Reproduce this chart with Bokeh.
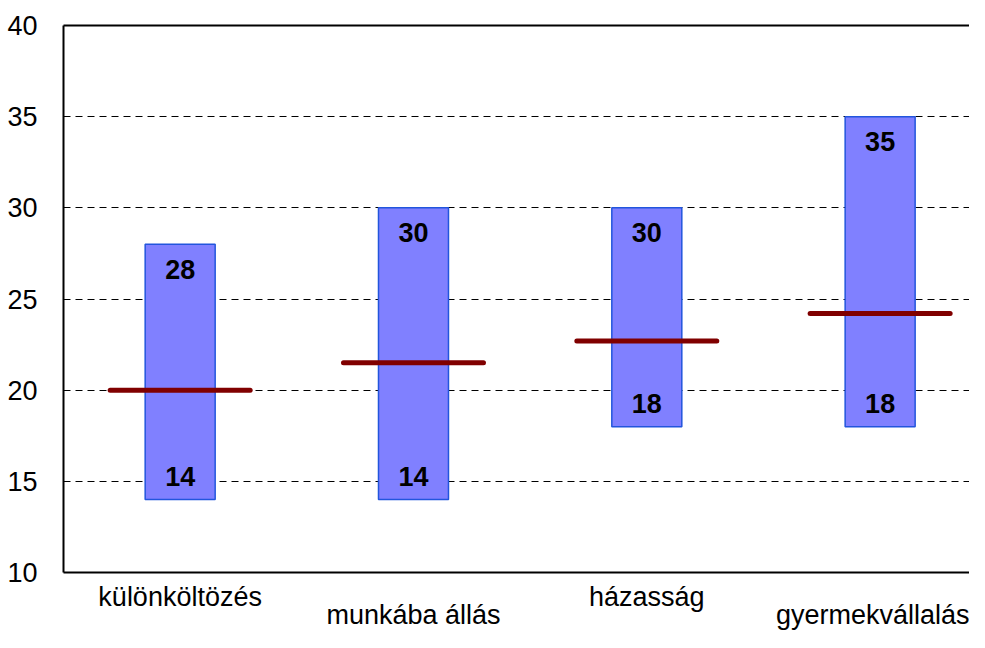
from bokeh.plotting import figure
from bokeh.models import Range1d, LinearAxis, FixedTicker, Grid, ColumnDataSource
from bokeh.core.properties import value
from bokeh.embed import file_html
from bokeh.resources import INLINE

categories = ["különköltözés", "munkába állás", "házasság", "gyermekvállalás"]
low_values = [14, 14, 18, 18]
high_values = [28, 30, 30, 35]
median_values = [20.0, 21.5, 22.7, 24.2]
y_ticks = [10, 15, 20, 25, 30, 35, 40]

FONT = "Liberation Sans"
idx = list(range(len(categories)))

src = ColumnDataSource(dict(
    x=idx,
    low=low_values,
    high=high_values,
    med=median_values,
    x0=[i - 0.3 for i in idx],
    x1=[i + 0.3 for i in idx],
    low_txt=[str(v) for v in low_values],
    high_txt=[str(v) for v in high_values],
))

p = figure(width=969, height=632,
           x_range=Range1d(-0.5, 3.383), y_range=Range1d(10, 40),
           output_backend="svg", toolbar_location=None,
           x_axis_location=None, y_axis_location=None,
           min_border_left=63, min_border_right=0,
           min_border_top=25, min_border_bottom=60)
p.outline_line_color = None
p.background_fill_color = "white"
p.border_fill_color = "white"
p.grid.visible = False

# y axis
yaxis = LinearAxis(ticker=FixedTicker(ticks=y_ticks))
yaxis.axis_line_width = 2
yaxis.axis_line_color = "black"
yaxis.major_tick_line_color = None
yaxis.minor_tick_line_color = None
yaxis.major_label_standoff = 20
yaxis.major_label_text_font = FONT
yaxis.major_label_text_font_size = "27px"
yaxis.major_label_text_color = "black"
p.add_layout(yaxis, "left")

# bottom axis: first row of category labels
even = [i for i in idx if i % 2 == 0]
odd = [i for i in idx if i % 2 == 1]

xaxis = LinearAxis(ticker=FixedTicker(ticks=even),
                   major_label_overrides={i: categories[i] for i in even})
xaxis.axis_line_width = 2
xaxis.axis_line_color = "black"
xaxis.major_tick_line_color = None
xaxis.minor_tick_line_color = None
xaxis.major_label_standoff = 3
xaxis.major_label_text_font = FONT
xaxis.major_label_text_font_size = "27px"
xaxis.major_label_text_color = "black"
p.add_layout(xaxis, "below")

# second row of category labels
xaxis2 = LinearAxis(ticker=FixedTicker(ticks=odd),
                    major_label_overrides={i: categories[i] for i in odd})
xaxis2.axis_line_color = None
xaxis2.major_tick_line_color = None
xaxis2.minor_tick_line_color = None
xaxis2.major_label_standoff = -21
xaxis2.major_label_text_font = FONT
xaxis2.major_label_text_font_size = "27px"
xaxis2.major_label_text_color = "black"
p.add_layout(xaxis2, "below")

# top frame line
taxis = LinearAxis(ticker=FixedTicker(ticks=[]))
taxis.axis_line_width = 2
taxis.axis_line_color = "black"
taxis.major_tick_line_color = None
taxis.minor_tick_line_color = None
taxis.major_label_text_font_size = "0px"
p.add_layout(taxis, "above")

# dashed horizontal gridlines
grid = Grid(dimension=1, ticker=FixedTicker(ticks=[15, 20, 25, 30, 35]))
grid.grid_line_color = "black"
grid.grid_line_width = 1
grid.grid_line_dash = "7 5"
p.add_layout(grid)

# range bars
p.vbar(x="x", bottom="low", top="high", width=0.3, source=src,
       fill_color="#8080FF", line_color="#2255DD", line_width=1.5)

# median lines
p.segment(x0="x0", x1="x1", y0="med", y1="med", source=src,
          line_color="#800000", line_width=5, line_cap="round")

# value labels
p.text(x="x", y="high", text="high_txt", source=src, y_offset=25,
       text_align="center", text_baseline="middle",
       text_font=value(FONT), text_font_style="bold",
       text_font_size="27px", text_color="black")
p.text(x="x", y="low", text="low_txt", source=src, y_offset=-23,
       text_align="center", text_baseline="middle",
       text_font=value(FONT), text_font_style="bold",
       text_font_size="27px", text_color="black")

open("out.html", "w").write(file_html(p, INLINE))
